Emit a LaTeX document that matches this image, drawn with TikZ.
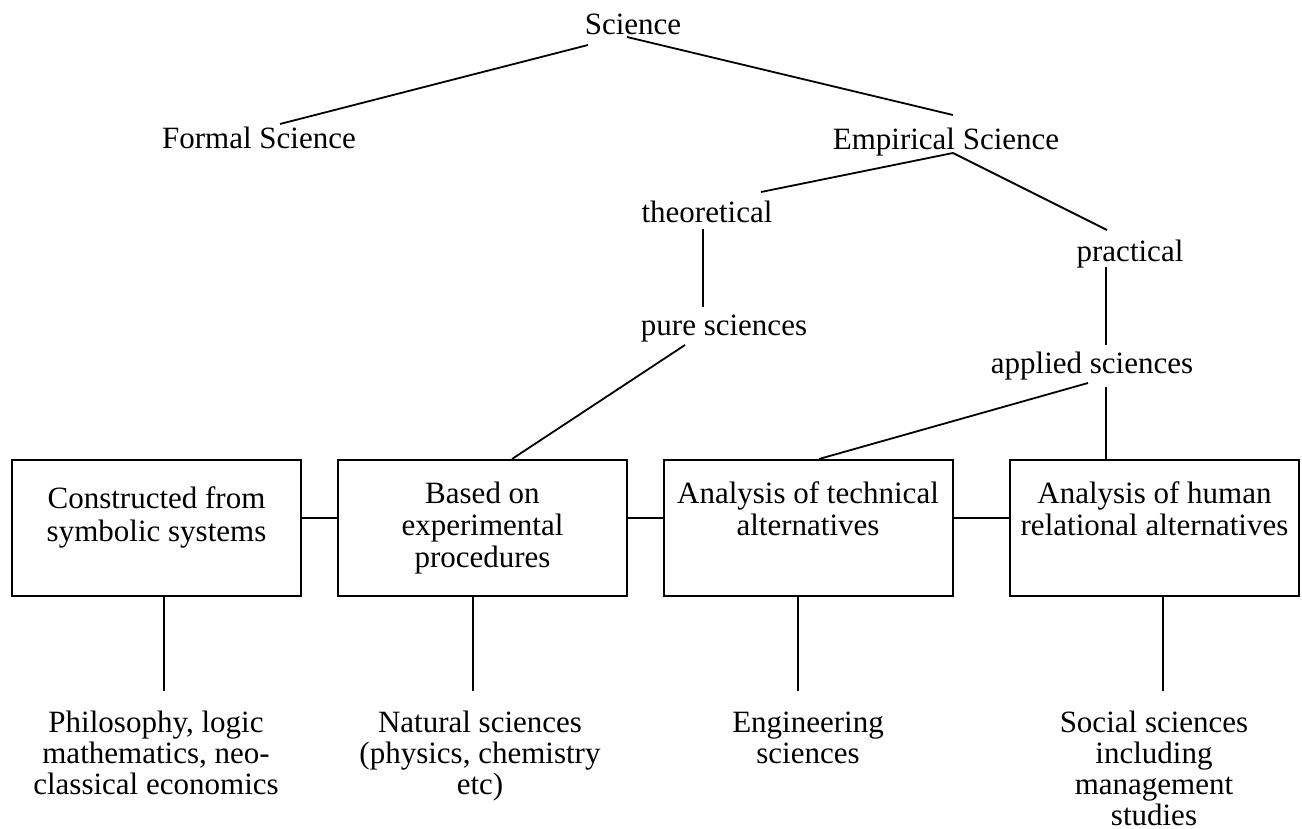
\documentclass[tikz,border=0pt]{standalone}
\usepackage{fontspec}
\setmainfont{Liberation Serif}
\begin{document}
\begin{tikzpicture}[x=1pt,y=-1pt,
  % multi-line labels sit on the baseline of their last line
  lbl/.style={inner sep=0pt,anchor=base,align=center,
    font=\fontsize{31}{33}\selectfont},
  boxtext/.style={lbl,font=\fontsize{31}{32}\selectfont},
  fieldtext/.style={lbl,font=\fontsize{31}{31}\selectfont},
  boxnode/.style={draw,line width=2pt,inner sep=0pt,
    minimum width=289pt,minimum height=136pt},
  link/.style={line width=1.8pt}]
\useasboundingbox (0,0) rectangle (1302,829);

% top of the classification
\node[lbl] (sci) at (633,35) {Science};
\node[lbl] (fs)  at (259,149) {Formal Science};
\node[lbl] (es)  at (946,150) {Empirical Science};
\node[lbl] (th)  at (707,223) {theoretical};
\node[lbl] (pr)  at (1130,262) {practical};
\node[lbl] (pu)  at (724,335) {pure sciences};
\node[lbl] (ap)  at (1092,373) {applied sciences};

% the four boxes
\node[boxnode] (b1) at (156.5,528) {};
\node[boxnode] (b2) at (482.5,528) {};
\node[boxnode] (b3) at (808,528) {};
\node[boxnode] (b4) at (1154.5,528) {};
\node[lbl] (b1t) at (156.5,541) {Constructed from\\symbolic systems};
\node[boxtext] (b2t) at (482.5,567) {Based on\\experimental\\procedures};
\node[boxtext] (b3t) at (808,535) {Analysis of technical\\alternatives};
\node[boxtext] (b4t) at (1154.5,535) {Analysis of human\\relational alternatives};

% fields at the bottom
\node[fieldtext] (p1) at (156,794) {Philosophy, logic\\mathematics, neo-\\classical economics};
\node[fieldtext] (p2) at (480,794) {Natural sciences\\(physics, chemistry\\etc)};
\node[fieldtext] (p3) at (808,763) {Engineering\\sciences};
\node[fieldtext] (p4) at (1154,825) {Social sciences\\including\\management\\studies};

% tree connectors
\draw[link] ([shift={(-45,10)}]sci.base) -- ([shift={(21,-25)}]fs.base);
\draw[link] ([shift={(-6,2)}]sci.base) -- ([shift={(7,-35)}]es.base);
\draw[link] ([shift={(54,-31)}]th.base) -- ([shift={(7,3)}]es.base)
            -- ([shift={(-23,-32)}]pr.base);
\draw[link] ([shift={(-4,6)}]th.base) -- ([shift={(-21,-28)}]pu.base);
\draw[link] ([shift={(-24,5)}]pr.base) -- ([shift={(14,-28)}]ap.base);
\draw[link] ([shift={(-39,10)}]pu.base) -- ([xshift=29.5pt]b2.north);
\draw[link] ([shift={(-4,10)}]ap.base) -- ([xshift=11pt]b3.north);
\draw[link] ([shift={(14,14)}]ap.base) -- ([xshift=-48.5pt]b4.north);

% links between neighbouring boxes
\draw[link] ([yshift=10pt]b1.east) -- ([yshift=10pt]b2.west);
\draw[link] ([yshift=10pt]b2.east) -- ([yshift=10pt]b3.west);
\draw[link] ([yshift=10pt]b3.east) -- ([yshift=10pt]b4.west);

% drops to the fields
\draw[link] ([xshift=7.5pt]b1.south) -- ++(0,94);
\draw[link] ([xshift=-9.5pt]b2.south) -- ++(0,94);
\draw[link] ([xshift=-10pt]b3.south) -- ++(0,94);
\draw[link] ([xshift=8.5pt]b4.south) -- ++(0,94);
\end{tikzpicture}
\end{document}
